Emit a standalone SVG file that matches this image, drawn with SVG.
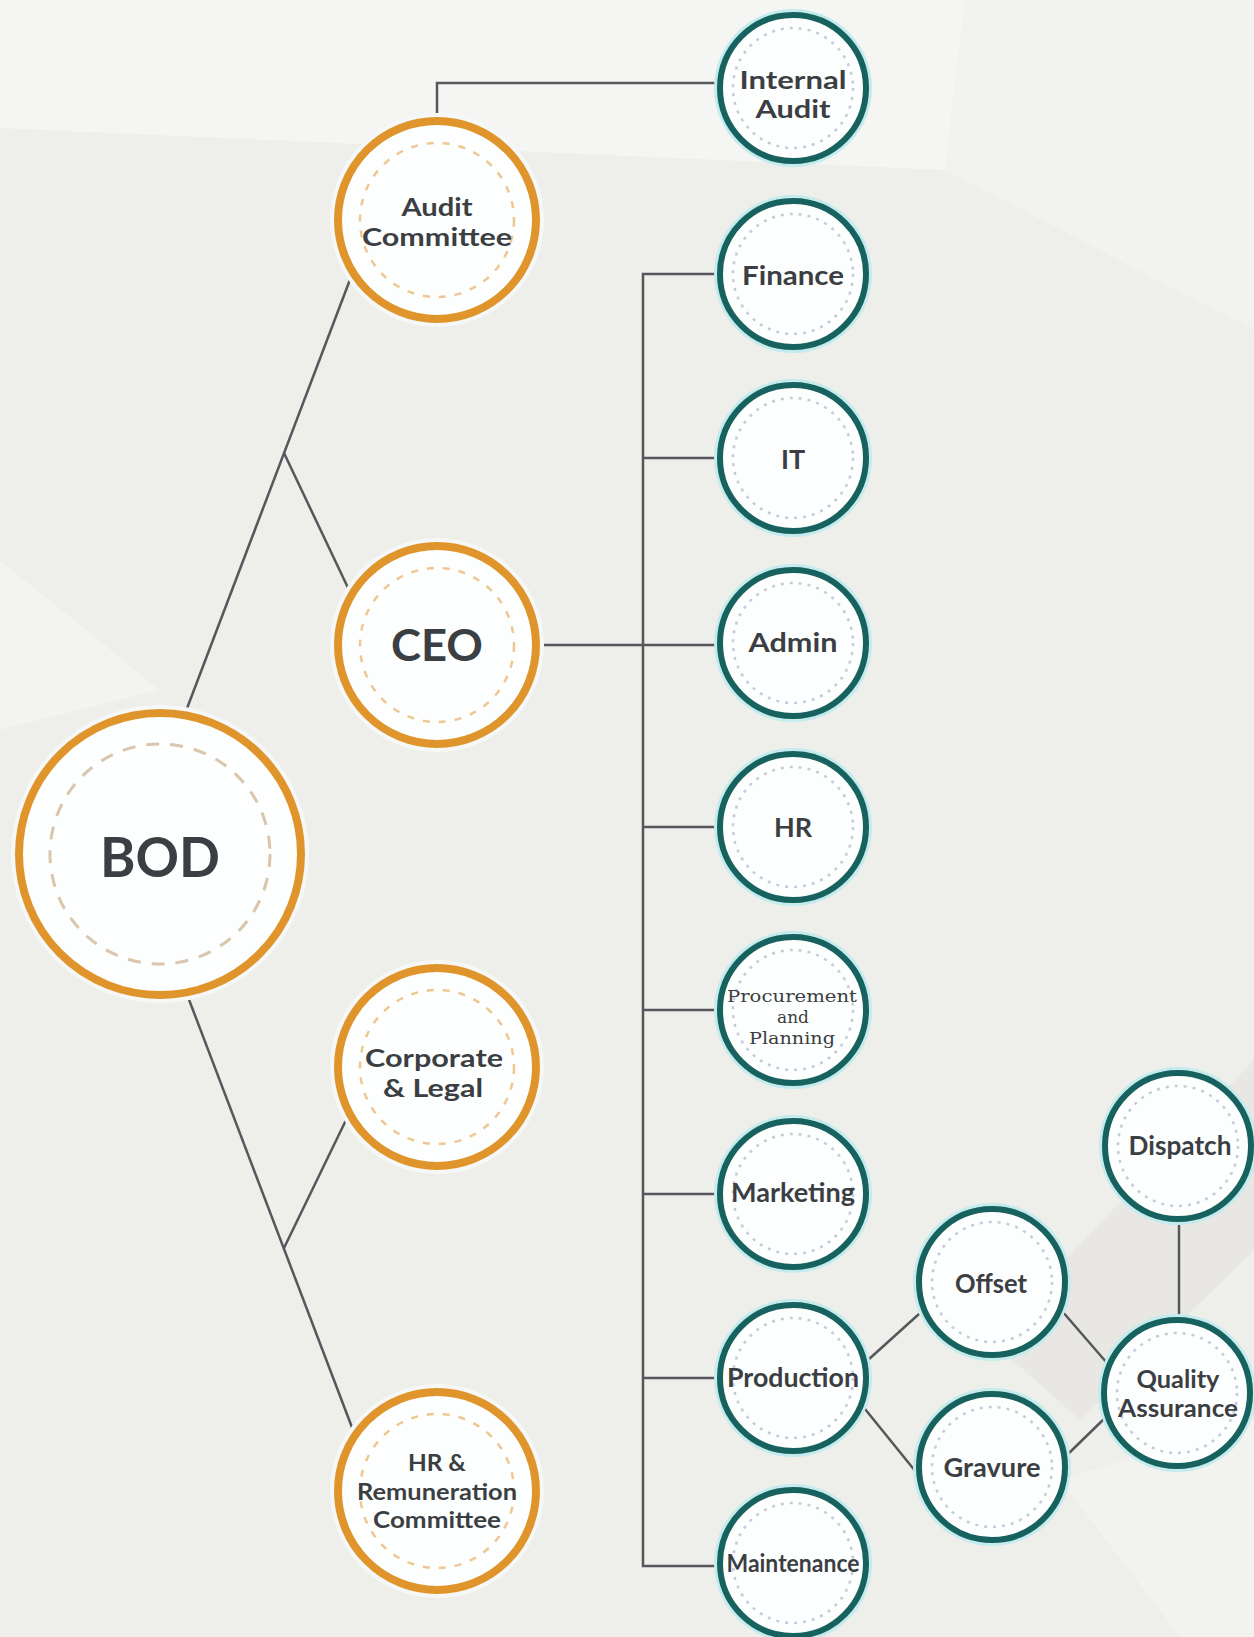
<svg xmlns="http://www.w3.org/2000/svg" width="1254" height="1637" viewBox="0 0 1254 1637">
<style>
.conn{stroke:#55575c;stroke-width:2.5;fill:none}
.o-halo{fill:none;stroke:#f6f8f8;stroke-width:6}
.o-ring{fill:#fdfefe;stroke:#e0952c;stroke-width:8}
.o-dash{fill:none;stroke:#efc792;stroke-width:2.5;stroke-dasharray:7 9}
.b-dash{fill:none;stroke:#d9c6ad;stroke-width:3;stroke-dasharray:13 11}
.t-halo{fill:none;stroke:#c4ebee;stroke-width:4}
.t-ring{fill:#fdfefe;stroke:#17625f;stroke-width:6}
.t-dash{fill:none;stroke:#c6cbdb;stroke-width:2.5;stroke-dasharray:3 6}
.lbl{font-family:Lato,"Open Sans","Liberation Sans",sans-serif;font-weight:700;fill:#3b3e43;text-anchor:middle}
.o{font-size:25px}
.t{font-size:27px}
.t2{font-size:24px}
.s{font-family:"DejaVu Serif","Liberation Serif",serif;font-weight:400;font-size:17px}
</style>
<rect width="1254" height="1637" fill="#eeeeea"/>
<g id="background">
<polygon points="0,0 965,0 945,170 0,128" fill="#f5f5f3"/>
<polygon points="965,0 1254,0 1254,330 945,170" fill="#f2f2ef"/>
<polygon points="0,560 160,690 0,730" fill="#f3f3f0"/>
<polygon points="990,1340 1254,1060 1254,1250 1080,1420" fill="#e8e7e3"/>
<polygon points="1060,1480 1254,1420 1254,1637 1180,1637" fill="#f2f2ef"/>
</g>
<g id="connectors">
<line class="conn" x1="186" y1="711" x2="351" y2="277"/>
<line class="conn" x1="284" y1="453" x2="350" y2="592"/>
<line class="conn" x1="188" y1="997" x2="353" y2="1430"/>
<line class="conn" x1="284" y1="1248" x2="347" y2="1118"/>
<polyline class="conn" points="437,118 437,83 717,83"/>
<line class="conn" x1="539" y1="645" x2="717" y2="645"/>
<polyline class="conn" points="717,274 643,274 643,1566 717,1566"/>
<line class="conn" x1="643" y1="458" x2="717" y2="458"/>
<line class="conn" x1="643" y1="827" x2="717" y2="827"/>
<line class="conn" x1="643" y1="1010" x2="717" y2="1010"/>
<line class="conn" x1="643" y1="1194" x2="717" y2="1194"/>
<line class="conn" x1="643" y1="1378" x2="717" y2="1378"/>
<line class="conn" x1="868" y1="1360" x2="919" y2="1314"/>
<line class="conn" x1="865" y1="1409" x2="916" y2="1472"/>
<line class="conn" x1="1062" y1="1311" x2="1107" y2="1363"/>
<line class="conn" x1="1067" y1="1455" x2="1105" y2="1418"/>
<line class="conn" x1="1179" y1="1222" x2="1179" y2="1317"/>
</g>
<g id="bod">
<circle class="o-halo" cx="160" cy="854" r="146"/>
<circle class="o-ring" cx="160" cy="854" r="141"/>
<circle class="b-dash" cx="160" cy="854" r="110"/>
<text class="lbl" x="160" y="877" font-size="56" textLength="120" lengthAdjust="spacingAndGlyphs">BOD</text>
</g>
<g id="audit-committee">
<circle class="o-halo" cx="437" cy="220" r="104"/>
<circle class="o-ring" cx="437" cy="220" r="99"/>
<circle class="o-dash" cx="437" cy="220" r="77"/>
<text class="lbl o" x="437" y="216" textLength="71" lengthAdjust="spacingAndGlyphs">Audit</text>
<text class="lbl o" x="437" y="246" textLength="150" lengthAdjust="spacingAndGlyphs">Committee</text>
</g>
<g id="ceo">
<circle class="o-halo" cx="437" cy="645" r="104"/>
<circle class="o-ring" cx="437" cy="645" r="99"/>
<circle class="o-dash" cx="437" cy="645" r="77"/>
<text class="lbl" x="437" y="661" font-size="44" textLength="92" lengthAdjust="spacingAndGlyphs">CEO</text>
</g>
<g id="corporate-legal">
<circle class="o-halo" cx="437" cy="1067" r="104"/>
<circle class="o-ring" cx="437" cy="1067" r="99"/>
<circle class="o-dash" cx="437" cy="1067" r="77"/>
<text class="lbl o" x="434" y="1067" textLength="138" lengthAdjust="spacingAndGlyphs">Corporate</text>
<text class="lbl o" x="433" y="1097" textLength="100" lengthAdjust="spacingAndGlyphs">&amp; Legal</text>
</g>
<g id="hr-remuneration">
<circle class="o-halo" cx="437" cy="1491" r="104"/>
<circle class="o-ring" cx="437" cy="1491" r="99"/>
<circle class="o-dash" cx="437" cy="1491" r="77"/>
<text class="lbl" x="437" y="1471" font-size="23" textLength="58" lengthAdjust="spacingAndGlyphs">HR &amp;</text>
<text class="lbl" x="437" y="1500" font-size="23" textLength="160" lengthAdjust="spacingAndGlyphs">Remuneration</text>
<text class="lbl" x="437" y="1528" font-size="23" textLength="128" lengthAdjust="spacingAndGlyphs">Committee</text>
</g>
<g id="internal-audit">
<circle class="t-halo" cx="793" cy="88" r="77"/>
<circle class="t-ring" cx="793" cy="88" r="73"/>
<circle class="t-dash" cx="793" cy="88" r="60"/>
<text class="lbl t2" x="793" y="89" textLength="107" lengthAdjust="spacingAndGlyphs">Internal</text>
<text class="lbl t2" x="793" y="118" textLength="75" lengthAdjust="spacingAndGlyphs">Audit</text>
</g>
<g id="finance">
<circle class="t-halo" cx="793" cy="274" r="77"/>
<circle class="t-ring" cx="793" cy="274" r="73"/>
<circle class="t-dash" cx="793" cy="274" r="60"/>
<text class="lbl t" x="793" y="285" textLength="102" lengthAdjust="spacingAndGlyphs">Finance</text>
</g>
<g id="it">
<circle class="t-halo" cx="793" cy="458" r="77"/>
<circle class="t-ring" cx="793" cy="458" r="73"/>
<circle class="t-dash" cx="793" cy="458" r="60"/>
<text class="lbl t" x="793" y="469">IT</text>
</g>
<g id="admin">
<circle class="t-halo" cx="793" cy="643" r="77"/>
<circle class="t-ring" cx="793" cy="643" r="73"/>
<circle class="t-dash" cx="793" cy="643" r="60"/>
<text class="lbl t" x="793" y="652" textLength="89" lengthAdjust="spacingAndGlyphs">Admin</text>
</g>
<g id="hr">
<circle class="t-halo" cx="793" cy="827" r="77"/>
<circle class="t-ring" cx="793" cy="827" r="73"/>
<circle class="t-dash" cx="793" cy="827" r="60"/>
<text class="lbl t" x="793" y="837">HR</text>
</g>
<g id="procurement-planning">
<circle class="t-halo" cx="793" cy="1010" r="77"/>
<circle class="t-ring" cx="793" cy="1010" r="73"/>
<circle class="t-dash" cx="793" cy="1010" r="60"/>
<text class="lbl s" x="792" y="1002" textLength="130" lengthAdjust="spacingAndGlyphs">Procurement</text>
<text class="lbl s" x="793" y="1023">and</text>
<text class="lbl s" x="792" y="1044" textLength="86" lengthAdjust="spacingAndGlyphs">Planning</text>
</g>
<g id="marketing">
<circle class="t-halo" cx="793" cy="1194" r="77"/>
<circle class="t-ring" cx="793" cy="1194" r="73"/>
<circle class="t-dash" cx="793" cy="1194" r="60"/>
<text class="lbl t" x="793" y="1202" textLength="124" lengthAdjust="spacingAndGlyphs">Marketing</text>
</g>
<g id="production">
<circle class="t-halo" cx="793" cy="1378" r="77"/>
<circle class="t-ring" cx="793" cy="1378" r="73"/>
<circle class="t-dash" cx="793" cy="1378" r="60"/>
<text class="lbl t" x="793" y="1387" textLength="132" lengthAdjust="spacingAndGlyphs">Production</text>
</g>
<g id="maintenance">
<circle class="t-halo" cx="793" cy="1563" r="77"/>
<circle class="t-ring" cx="793" cy="1563" r="73"/>
<circle class="t-dash" cx="793" cy="1563" r="60"/>
<text class="lbl" x="793" y="1572" font-size="24" textLength="133" lengthAdjust="spacingAndGlyphs">Maintenance</text>
</g>
<g id="offset">
<circle class="t-halo" cx="992" cy="1282" r="77"/>
<circle class="t-ring" cx="992" cy="1282" r="73"/>
<circle class="t-dash" cx="992" cy="1282" r="60"/>
<text class="lbl t" x="991" y="1293" textLength="72" lengthAdjust="spacingAndGlyphs">Offset</text>
</g>
<g id="gravure">
<circle class="t-halo" cx="992" cy="1467" r="77"/>
<circle class="t-ring" cx="992" cy="1467" r="73"/>
<circle class="t-dash" cx="992" cy="1467" r="60"/>
<text class="lbl t" x="992" y="1477" textLength="97" lengthAdjust="spacingAndGlyphs">Gravure</text>
</g>
<g id="dispatch">
<circle class="t-halo" cx="1178" cy="1146" r="77"/>
<circle class="t-ring" cx="1178" cy="1146" r="73"/>
<circle class="t-dash" cx="1178" cy="1146" r="60"/>
<text class="lbl t" x="1180" y="1155" textLength="103" lengthAdjust="spacingAndGlyphs">Dispatch</text>
</g>
<g id="quality-assurance">
<circle class="t-halo" cx="1177" cy="1393" r="77"/>
<circle class="t-ring" cx="1177" cy="1393" r="73"/>
<circle class="t-dash" cx="1177" cy="1393" r="60"/>
<text class="lbl t2" x="1178" y="1388" textLength="83" lengthAdjust="spacingAndGlyphs">Quality</text>
<text class="lbl t2" x="1178" y="1417" textLength="120" lengthAdjust="spacingAndGlyphs">Assurance</text>
</g>
</svg>
